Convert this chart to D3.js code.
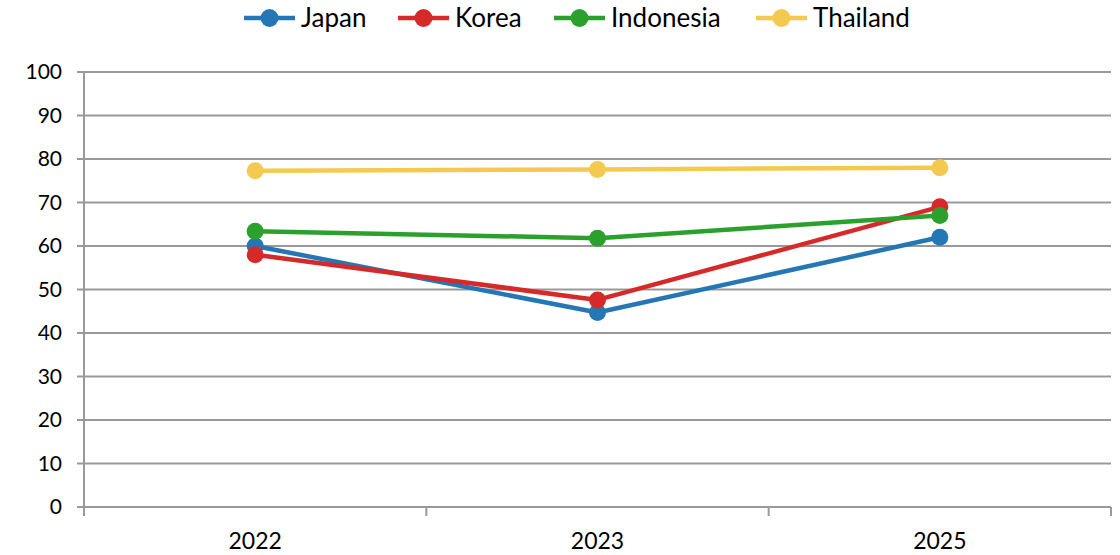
<!DOCTYPE html>
<html>
<head>
<meta charset="utf-8">
<script src="https://cdn.jsdelivr.net/npm/d3@7"></script>
<style>
  html, body { margin: 0; padding: 0; background: #fff; }
  svg { display: block; }
  text { font-family: Lato, "Liberation Sans", Arial, sans-serif; fill: #000; }
</style>
</head>
<body>
<svg id="chart" width="1120" height="555"></svg>
<script>
const years = ["2022", "2023", "2025"];
const seriesNames = ["Japan", "Korea", "Indonesia", "Thailand"];
const japan = [60, 44.7, 62];
const korea = [58, 47.6, 69];
const indonesia = [63.4, 61.8, 67];
const thailand = [77.3, 77.6, 78];
const yTicks = [0, 10, 20, 30, 40, 50, 60, 70, 80, 90, 100];
const colors = ["#2477b4", "#d62a2a", "#2ca02c", "#f4c94f"];

const seriesValues = [japan, korea, indonesia, thailand];

const svg = d3.select("#chart");
const margin = { left: 84, right: 1111, top: 72, bottom: 507 };

const x = d3.scaleBand().domain(years).range([margin.left, margin.right]);
const y = d3.scaleLinear().domain([0, 100]).range([margin.bottom, margin.top]);

// horizontal gridlines
svg.append("g")
  .selectAll("line")
  .data(yTicks)
  .join("line")
  .attr("x1", margin.left - 7)
  .attr("x2", margin.right)
  .attr("y1", d => y(d))
  .attr("y2", d => y(d))
  .attr("stroke", "#999")
  .attr("stroke-width", 2);

// y axis labels
svg.append("g")
  .selectAll("text")
  .data(yTicks)
  .join("text")
  .attr("x", 62)
  .attr("y", d => y(d))
  .attr("dy", "0.35em")
  .attr("text-anchor", "end")
  .attr("font-size", 21)
  .text(d => d);

// vertical axis line
svg.append("line")
  .attr("x1", margin.left).attr("x2", margin.left)
  .attr("y1", margin.top).attr("y2", margin.bottom + 9)
  .attr("stroke", "#999").attr("stroke-width", 2);

// x axis tick marks at band boundaries
const boundaries = years.map(d => x(d)).concat([x(years[years.length - 1]) + x.bandwidth()]);
svg.append("g")
  .selectAll("line")
  .data(boundaries.slice(1))
  .join("line")
  .attr("x1", d => d).attr("x2", d => d)
  .attr("y1", margin.bottom).attr("y2", margin.bottom + 9)
  .attr("stroke", "#999").attr("stroke-width", 2);

// x axis labels
svg.append("g")
  .selectAll("text")
  .data(years)
  .join("text")
  .attr("x", d => x(d) + x.bandwidth() / 2)
  .attr("y", 549)
  .attr("text-anchor", "middle")
  .attr("font-size", 23)
  .text(d => d);

// series lines and markers
const line = d3.line()
  .x((d, i) => x(years[i]) + x.bandwidth() / 2)
  .y(d => y(d));

seriesValues.forEach((vals, si) => {
  const g = svg.append("g");
  g.append("path")
    .attr("d", line(vals))
    .attr("fill", "none")
    .attr("stroke", colors[si])
    .attr("stroke-width", 4.5)
    .attr("stroke-linejoin", "round");
  g.selectAll("circle")
    .data(vals)
    .join("circle")
    .attr("cx", (d, i) => x(years[i]) + x.bandwidth() / 2)
    .attr("cy", d => y(d))
    .attr("r", 8.5)
    .attr("fill", colors[si]);
});

// legend
const legendX = [244, 398, 554, 756];
const legend = svg.append("g");
seriesNames.forEach((name, i) => {
  const lx = legendX[i];
  legend.append("line")
    .attr("x1", lx).attr("x2", lx + 51)
    .attr("y1", 18).attr("y2", 18)
    .attr("stroke", colors[i]).attr("stroke-width", 4.5);
  legend.append("circle")
    .attr("cx", lx + 25.5).attr("cy", 18).attr("r", 9)
    .attr("fill", colors[i]);
  legend.append("text")
    .attr("x", lx + 57).attr("y", 18)
    .attr("dy", "0.35em")
    .attr("font-size", 26)
    .text(name);
});
</script>
</body>
</html>
